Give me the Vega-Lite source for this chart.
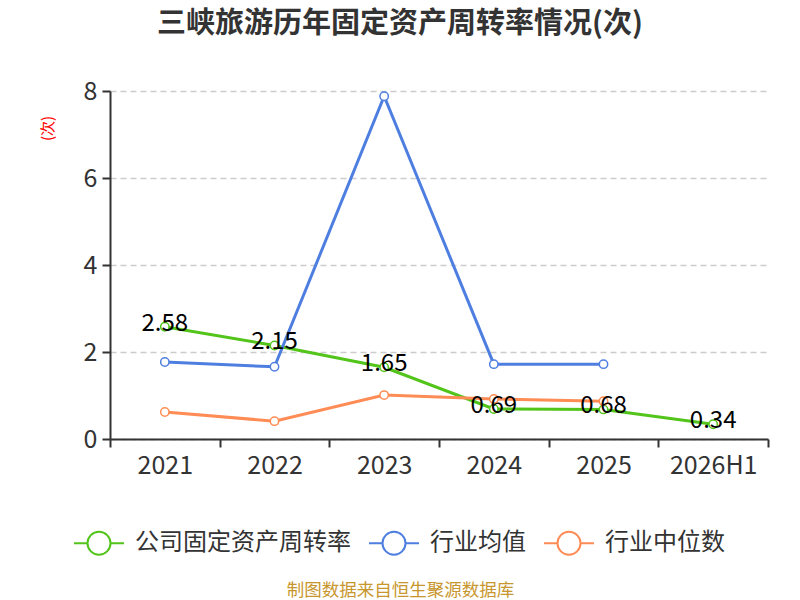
{
  "$schema": "https://vega.github.io/schema/vega-lite/v6.json",
  "width": 658,
  "height": 348,
  "autosize": {"type": "none"},
  "padding": {"left": 110, "top": 91, "right": 32, "bottom": 161},
  "background": "white",
  "config": {
    "font": "Noto Sans CJK SC",
    "view": {"stroke": null},
    "axis": {"labelColor": "#333333", "labelFontSize": 25, "domainColor": "#333333", "tickColor": "#333333", "domainWidth": 2, "tickWidth": 2}
  },
  "title": {
    "text": "三峡旅游历年固定资产周转率情况(次)",
    "fontSize": 29,
    "fontWeight": "bold",
    "color": "#333333",
    "anchor": "middle",
    "dx": -39,
    "offset": 40
  },
  "data": {
    "values": [
      {"year": "2021", "series": "公司固定资产周转率", "value": 2.58},
      {"year": "2022", "series": "公司固定资产周转率", "value": 2.15},
      {"year": "2023", "series": "公司固定资产周转率", "value": 1.65},
      {"year": "2024", "series": "公司固定资产周转率", "value": 0.69},
      {"year": "2025", "series": "公司固定资产周转率", "value": 0.68},
      {"year": "2026H1", "series": "公司固定资产周转率", "value": 0.34},
      {"year": "2021", "series": "行业均值", "value": 1.77},
      {"year": "2022", "series": "行业均值", "value": 1.66},
      {"year": "2023", "series": "行业均值", "value": 7.88},
      {"year": "2024", "series": "行业均值", "value": 1.72},
      {"year": "2025", "series": "行业均值", "value": 1.72},
      {"year": "2021", "series": "行业中位数", "value": 0.62},
      {"year": "2022", "series": "行业中位数", "value": 0.41},
      {"year": "2023", "series": "行业中位数", "value": 1.01},
      {"year": "2024", "series": "行业中位数", "value": 0.92},
      {"year": "2025", "series": "行业中位数", "value": 0.87}
    ]
  },
  "encoding": {
    "x": {
      "field": "year",
      "type": "ordinal",
      "sort": null,
      "scale": {"paddingInner": 0, "paddingOuter": 0},
      "axis": {
        "labelAngle": 0,
        "labelPadding": 6,
        "tickBand": "extent",
        "tickSize": 8,
        "title": "制图数据来自恒生聚源数据库",
        "titleFontSize": 17.5,
        "titleFontWeight": "normal",
        "titleColor": "#c8962e",
        "titleX": 290,
        "titleY": 151,
        "titleBaseline": "middle"
      }
    },
    "y": {
      "field": "value",
      "type": "quantitative",
      "scale": {"domain": [0, 8]},
      "axis": {
        "values": [0, 2, 4, 6, 8],
        "tickSize": 8,
        "labelPadding": 5,
        "grid": true,
        "gridColor": "#cccccc",
        "gridDash": [6, 4],
        "gridWidth": 1.5,
        "title": "(次)",
        "titleColor": "#ff0000",
        "titleFontSize": 15,
        "titleFontWeight": "normal",
        "titleX": -63,
        "titleY": 37,
        "titleAlign": "center",
        "titleBaseline": "middle"
      }
    },
    "color": {
      "field": "series",
      "type": "nominal",
      "sort": null,
      "scale": {
        "domain": ["公司固定资产周转率", "行业均值", "行业中位数"],
        "range": ["#52c41a", "#4e7fe0", "#ff8c55"]
      },
      "legend": {
        "title": null,
        "orient": "none",
        "direction": "horizontal",
        "legendX": -37,
        "legendY": 426,
        "symbolType": "M-1,0L-0.46,0M0.46,0A0.46,0.46 0 1,1 -0.46,0A0.46,0.46 0 1,1 0.46,0M0.46,0L1,0",
        "symbolSize": 2500,
        "symbolStrokeWidth": 2,
        "symbolFillColor": "white",
        "labelFontSize": 24,
        "labelLimit": 400,
        "labelColor": "#333333",
        "labelOffset": 10,
        "columnPadding": 14
      }
    }
  },
  "layer": [
    {
      "mark": {"type": "line", "strokeWidth": 3}
    },
    {
      "mark": {"type": "point", "filled": false, "fill": "white", "fillOpacity": 1, "size": 70, "strokeWidth": 1.5, "opacity": 1}
    },
    {
      "transform": [{"filter": "datum.series == '公司固定资产周转率'"}],
      "mark": {"type": "text", "fontSize": 24, "color": "#000000", "dy": -3, "baseline": "middle", "align": "center"},
      "encoding": {
        "text": {"field": "value", "type": "quantitative", "format": ".2f"},
        "color": {"value": "#000000"}
      }
    }
  ]
}
